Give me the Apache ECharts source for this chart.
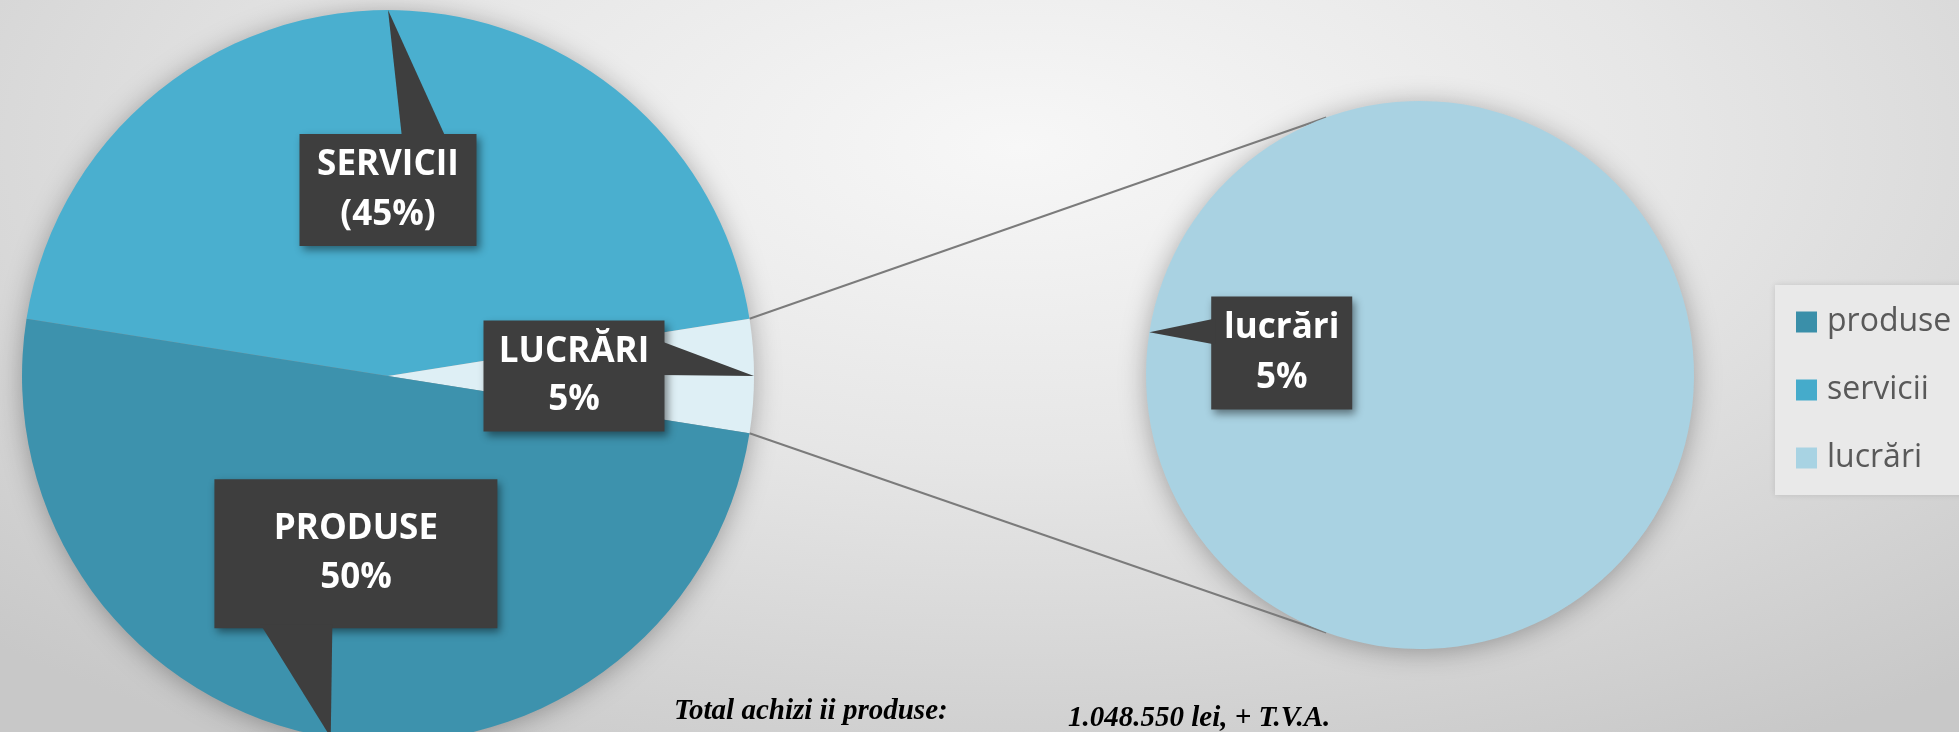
<!DOCTYPE html>
<html>
<head>
<meta charset="utf-8">
<script src="https://cdn.jsdelivr.net/npm/echarts@6/dist/echarts.min.js"></script>
<style>
  html, body { margin: 0; padding: 0; }
  #chart {
    width: 1959px;
    height: 732px;
    background: radial-gradient(ellipse 75% 95% at 52% 20%, #f7f7f7 0%, #e6e6e6 45%, #c8c8c8 100%);
  }
</style>
</head>
<body>
<div id="chart"></div>
<script>
// date: procente achiziții
const categories = ["produse", "servicii", "lucrări"]
const shares = [50, 45, 5]
const detailName = "lucrări"
const footerTexts = ["Total achizi ii produse:", "1.048.550 lei, + T.V.A."]

// stil
const sliceColors = { produse: "#3d92ad", servicii: "#4aafcf", "lucrări": "#deeff5" }
const legendColors = { produse: "#3a8fa9", servicii: "#45abcb", "lucrări": "#a8d3e3" }
const detailColor = "#a9d2e2"
const boxColor = "#3e3e3e"

const LEFT = { cx: 388, cy: 376, r: 366 }
const RIGHT = { cx: 1420, cy: 375, r: 274 }
const START_ANGLE = 171
const DETAIL_ANGLE = 171
const LINK_ANGLE = 110

// ordinea in sensul acelor de ceas, pornind de la START_ANGLE
const pieOrder = ["servicii", "lucrări", "produse"]

// cutii etichete: latime, inaltime rand, padding, deplasare, coada [deplasare, jumatate baza]
const boxes = {
  servicii: { w: 177, lh: 50, pad: [8, 0, 4, 0], off: [0, 0], tail: [36, 22] },
  "lucrări": { w: 181, lh: 48, pad: [9, 0, 6, 0], off: [0, 0], tail: [-18, 17] },
  produse: { w: 283, lh: 49, pad: [26, 0, 25, 0], off: [-3, -6], tail: [-60, 36] },
}
const detailBox = { w: 141, lh: 50, pad: [8, 0, 5, 0], off: [0, 0], tail: [-22, 13] }

const total = shares.reduce((a, b) => a + b, 0)
const valueOf = name => shares[categories.indexOf(name)]
const pct = v => Math.round(v / total * 100)

const labelText = name => {
  const p = pct(valueOf(name)) + "%"
  return name.toUpperCase() + "\n" + (name === "servicii" ? "(" + p + ")" : p)
}

// unghiurile feliilor
let angle = START_ANGLE
const slices = pieOrder.map(name => {
  const start = angle
  angle -= valueOf(name) / total * 360
  return { name, start, end: angle, mid: (start + angle) / 2 }
})
const detailSlice = slices.find(s => s.name === detailName)

const rad = d => d * Math.PI / 180
const onCircle = (pie, deg, k = 1) => [
  pie.cx + pie.r * k * Math.cos(rad(deg)),
  pie.cy - pie.r * k * Math.sin(rad(deg))
]
const clamp = (v, a, b) => Math.max(a, Math.min(b, v))

const labelStyle = box => ({
  show: true,
  position: "inside",
  offset: box.off,
  color: "#ffffff",
  fontFamily: "Open Sans",
  fontWeight: "bold",
  fontSize: 35,
  lineHeight: box.lh,
  width: box.w,
  align: "center",
  padding: box.pad,
  backgroundColor: boxColor,
  shadowColor: "rgba(0, 0, 0, 0.45)",
  shadowBlur: 8,
  shadowOffsetX: 3,
  shadowOffsetY: 4
})

// coada cutiei: de la marginea cutiei pana la marginea feliei
const tailOf = (pie, mid, box) => {
  const tip = onCircle(pie, mid)
  const m = onCircle(pie, mid, 0.5)
  const c = [m[0] + box.off[0], m[1] + box.off[1]]
  const hw = box.w / 2
  const hh = (box.lh * 2 + box.pad[0] + box.pad[2]) / 2
  const dx = tip[0] - c[0]
  const dy = tip[1] - c[1]
  const tx = Math.abs(dx) < 1e-6 ? Infinity : hw / Math.abs(dx)
  const ty = Math.abs(dy) < 1e-6 ? Infinity : hh / Math.abs(dy)
  const [shift, half] = box.tail
  let p1, p2
  if (tx < ty) {
    const x = c[0] + Math.sign(dx) * (hw - 1)
    const y = clamp(c[1] + shift, c[1] - hh + half, c[1] + hh - half)
    p1 = [x, y - half]
    p2 = [x, y + half]
  } else {
    const y = c[1] + Math.sign(dy) * (hh - 1)
    const x = clamp(c[0] + shift, c[0] - hw + half, c[0] + hw - half)
    p1 = [x - half, y]
    p2 = [x + half, y]
  }
  return {
    type: "polygon",
    silent: true,
    z: 5,
    shape: { points: [p1, tip, p2] },
    style: { fill: boxColor }
  }
}

const shadowCircle = pie => ({
  type: "circle",
  silent: true,
  z: 0,
  shape: { cx: pie.cx, cy: pie.cy, r: pie.r - 2 },
  style: {
    fill: "#9a9a9a",
    shadowBlur: 28,
    shadowColor: "rgba(0, 0, 0, 0.35)",
    shadowOffsetY: 3
  }
})

const linkLine = (a, b) => ({
  type: "line",
  silent: true,
  z: 1,
  shape: { x1: a[0], y1: a[1], x2: b[0], y2: b[1] },
  style: { stroke: "#7b7b7b", lineWidth: 2 }
})

const footer = (text, left, top) => ({
  type: "text",
  left,
  top,
  silent: true,
  style: { text, font: 'italic bold 29px "Liberation Serif"', fill: "#000000" }
})

const chart = echarts.init(document.getElementById("chart"))

chart.setOption({
  animation: false,
  legend: {
    orient: "vertical",
    left: 1775,
    top: 285,
    padding: [21, 20, 21, 21],
    backgroundColor: "#e9e9e9",
    shadowColor: "rgba(0, 0, 0, 0.12)",
    shadowBlur: 6,
    itemWidth: 21,
    itemHeight: 21,
    itemGap: 36,
    icon: "rect",
    selectedMode: false,
    textStyle: {
      fontFamily: "Open Sans",
      fontSize: 32,
      color: "#595959",
      padding: [0, 0, 0, 5]
    },
    data: categories.map(name => ({ name, itemStyle: { color: legendColors[name] } }))
  },
  graphic: [
    shadowCircle(LEFT),
    shadowCircle(RIGHT),
    linkLine(onCircle(LEFT, detailSlice.start), onCircle(RIGHT, LINK_ANGLE)),
    linkLine(onCircle(LEFT, detailSlice.end), onCircle(RIGHT, -LINK_ANGLE)),
    ...slices.map(s => tailOf(LEFT, s.mid, boxes[s.name])),
    tailOf(RIGHT, DETAIL_ANGLE, detailBox),
    footer(footerTexts[0], 674, 697),
    footer(footerTexts[1], 1068, 704)
  ],
  series: [
    {
      type: "pie",
      z: 2,
      center: [LEFT.cx, LEFT.cy],
      radius: LEFT.r,
      startAngle: START_ANGLE,
      clockwise: true,
      avoidLabelOverlap: false,
      emphasis: { disabled: true },
      labelLine: { show: false },
      itemStyle: { borderWidth: 0 },
      data: pieOrder.map(name => ({
        name,
        value: valueOf(name),
        itemStyle: { color: sliceColors[name] },
        label: { ...labelStyle(boxes[name]), formatter: () => labelText(name) }
      }))
    },
    {
      type: "pie",
      z: 2,
      center: [RIGHT.cx, RIGHT.cy],
      radius: RIGHT.r,
      // felia unica are mijlocul la DETAIL_ANGLE
      startAngle: DETAIL_ANGLE + 180,
      clockwise: true,
      avoidLabelOverlap: false,
      emphasis: { disabled: true },
      labelLine: { show: false },
      itemStyle: { borderWidth: 0 },
      data: [{
        name: detailName,
        value: valueOf(detailName),
        itemStyle: { color: detailColor },
        label: {
          ...labelStyle(detailBox),
          formatter: p => p.name + "\n" + pct(p.value) + "%"
        }
      }]
    }
  ]
})

window.addEventListener("resize", () => chart.resize())
</script>
</body>
</html>
